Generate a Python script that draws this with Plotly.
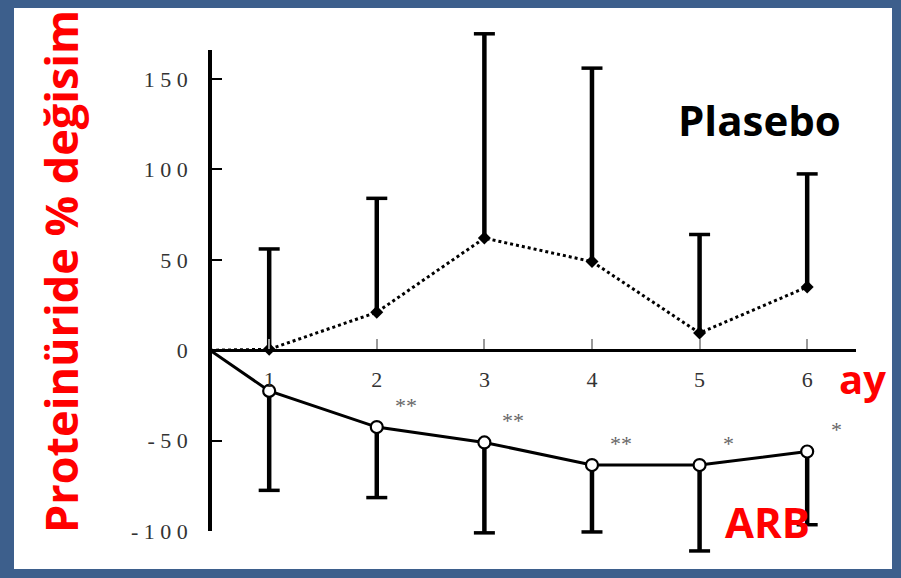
import plotly.graph_objects as go

# ---------------- data ----------------
months = [1, 2, 3, 4, 5, 6]
tick_months = [1, 2, 3, 4, 5, 6]
placebo_mean = [0.5, 21, 62, 49, 9.5, 35]
placebo_upper = [56, 84, 175, 156, 64, 97.5]
arb_mean = [-22.5, -42.5, -51, -63.5, -63.5, -56]
arb_lower = [-77.5, -81.5, -101, -100.5, -111, -96.5]
significance = ["", "**", "**", "**", "*", "*"]
baseline_value = 0
y_ticks = [-100, -50, 0, 50, 100, 150]

# ---------------- layout constants ----------------
W, H = 901, 578
L, R, T, B = 210, 856, 28, 556          # plot area in pixels
x_start = 0.45                          # month position at the y axis
x_end = x_start + (R - L) / 107.6
y_lo, y_hi = -113.8, 178.2              # data axis (full plot area)
y2_lo, y2_hi = -100, 166                # visible axis range


def px(xp):
    return (xp - L) / (R - L)


def py(yp):
    return (B - yp) / (B - T)


def sep(v):
    return "\u2005".join(str(v))


fig = go.Figure()

# placebo error bars (upward)
ex, ey = [], []
for m, v, u in zip(months, placebo_mean, placebo_upper):
    ex += [m, m, None]
    ey += [v, u, None]
fig.add_trace(go.Scatter(x=ex, y=ey, mode="lines",
                         line=dict(color="black", width=4.5),
                         hoverinfo="skip", showlegend=False))
fig.add_trace(go.Scatter(x=months, y=placebo_upper, mode="markers",
                         marker=dict(symbol="line-ew", size=15,
                                     line=dict(color="black", width=3.5)),
                         cliponaxis=False, hoverinfo="skip", showlegend=False))

# ARB error bars (downward)
ex, ey = [], []
for m, v, lo in zip(months, arb_mean, arb_lower):
    ex += [m, m, None]
    ey += [v, lo, None]
fig.add_trace(go.Scatter(x=ex, y=ey, mode="lines",
                         line=dict(color="black", width=4.5),
                         hoverinfo="skip", showlegend=False))
fig.add_trace(go.Scatter(x=months, y=arb_lower, mode="markers",
                         marker=dict(symbol="line-ew", size=15,
                                     line=dict(color="black", width=3.5)),
                         cliponaxis=False, hoverinfo="skip", showlegend=False))

# placebo dotted line
fig.add_trace(go.Scatter(x=[x_start] + months, y=[baseline_value] + placebo_mean,
                         mode="lines", line=dict(color="black", width=3, dash="dot"),
                         name="Plasebo", showlegend=False))
fig.add_trace(go.Scatter(x=months, y=placebo_mean, mode="markers",
                         marker=dict(symbol="diamond", size=10, color="black"),
                         cliponaxis=False, showlegend=False))

# ARB solid line
fig.add_trace(go.Scatter(x=[x_start] + months, y=[baseline_value] + arb_mean,
                         mode="lines", line=dict(color="black", width=3),
                         name="ARB", showlegend=False))
fig.add_trace(go.Scatter(x=months, y=arb_mean, mode="markers",
                         marker=dict(symbol="circle", size=12, color="white",
                                     line=dict(color="black", width=2.2)),
                         cliponaxis=False, showlegend=False))

# dummy trace to create the visible y axis subplot
fig.add_trace(go.Scatter(x=[None], y=[None], xaxis="x", yaxis="y2",
                         showlegend=False, hoverinfo="skip"))

annotations = []
for m, v, s in zip(months, arb_mean, significance):
    if s:
        annotations.append(dict(x=m + 0.27, y=v + 12, xref="x", yref="y",
                                xanchor="center", yanchor="middle",
                                text=s, showarrow=False,
                                font=dict(family="Liberation Serif", size=22,
                                          color="#666666")))

bold_font = "Open Sans"
annotations += [
    dict(x=px(759), y=py(120), xref="paper", yref="paper", text="<b>Plasebo</b>",
         xanchor="center", yanchor="middle",
         showarrow=False, font=dict(family=bold_font, size=42, color="black")),
    dict(x=px(863), y=py(378), xref="paper", yref="paper", text="<b>ay</b>",
         xanchor="center", yanchor="middle",
         showarrow=False, font=dict(family=bold_font, size=40, color="#ff0000")),
    dict(x=px(767), y=py(521), xref="paper", yref="paper", text="<b>ARB</b>",
         xanchor="center", yanchor="middle",
         showarrow=False, font=dict(family=bold_font, size=42, color="#ff0000")),
    dict(x=px(60), y=py(272), xref="paper", yref="paper",
         xanchor="center", yanchor="middle",
         text="<b>Proteinüride % değisim</b>", textangle=-90,
         showarrow=False, font=dict(family=bold_font, size=45, color="#ff0000")),
]

fig.update_layout(
    width=W, height=H, autosize=False,
    margin=dict(l=L, r=W - R, t=T, b=H - B, pad=0, autoexpand=False),
    paper_bgcolor="#3d5f8c",
    plot_bgcolor="rgba(0,0,0,0)",
    showlegend=False,
    shapes=[dict(type="rect", xref="paper", yref="paper", layer="below",
                 x0=px(14), x1=px(892), y0=py(569), y1=py(8),
                 fillcolor="white", line=dict(width=0))],
    annotations=annotations,
    xaxis=dict(range=[x_start, x_end], domain=[0, 1], anchor="free",
               position=(0 - y_lo) / (y_hi - y_lo),
               showline=True, linecolor="black", linewidth=3,
               ticks="inside", ticklen=10, tickwidth=2, tickcolor="#999999",
               tickvals=tick_months, ticktext=[str(t) for t in tick_months],
               tickfont=dict(family="Liberation Serif", size=22, color="#333333"),
               ticklabelstandoff=8,
               showgrid=False, zeroline=False),
    yaxis=dict(range=[y_lo, y_hi], domain=[0, 1], anchor="free", position=0,
               visible=False, showgrid=False, zeroline=False),
    yaxis2=dict(range=[y2_lo, y2_hi],
                domain=[(y2_lo - y_lo) / (y_hi - y_lo), (y2_hi - y_lo) / (y_hi - y_lo)],
                anchor="free", position=0,
                showline=True, linecolor="black", linewidth=3.5,
                ticks="inside", ticklen=10, tickwidth=2, tickcolor="black",
                tickvals=y_ticks, ticktext=[sep(v) for v in y_ticks],
                tickfont=dict(family="Liberation Serif", size=22, color="#333333"),
                ticklabelstandoff=16,
                showgrid=False, zeroline=False),
)

fig.write_html("out.html", config={"displayModeBar": False},
               post_script="document.body.style.margin='0';")
